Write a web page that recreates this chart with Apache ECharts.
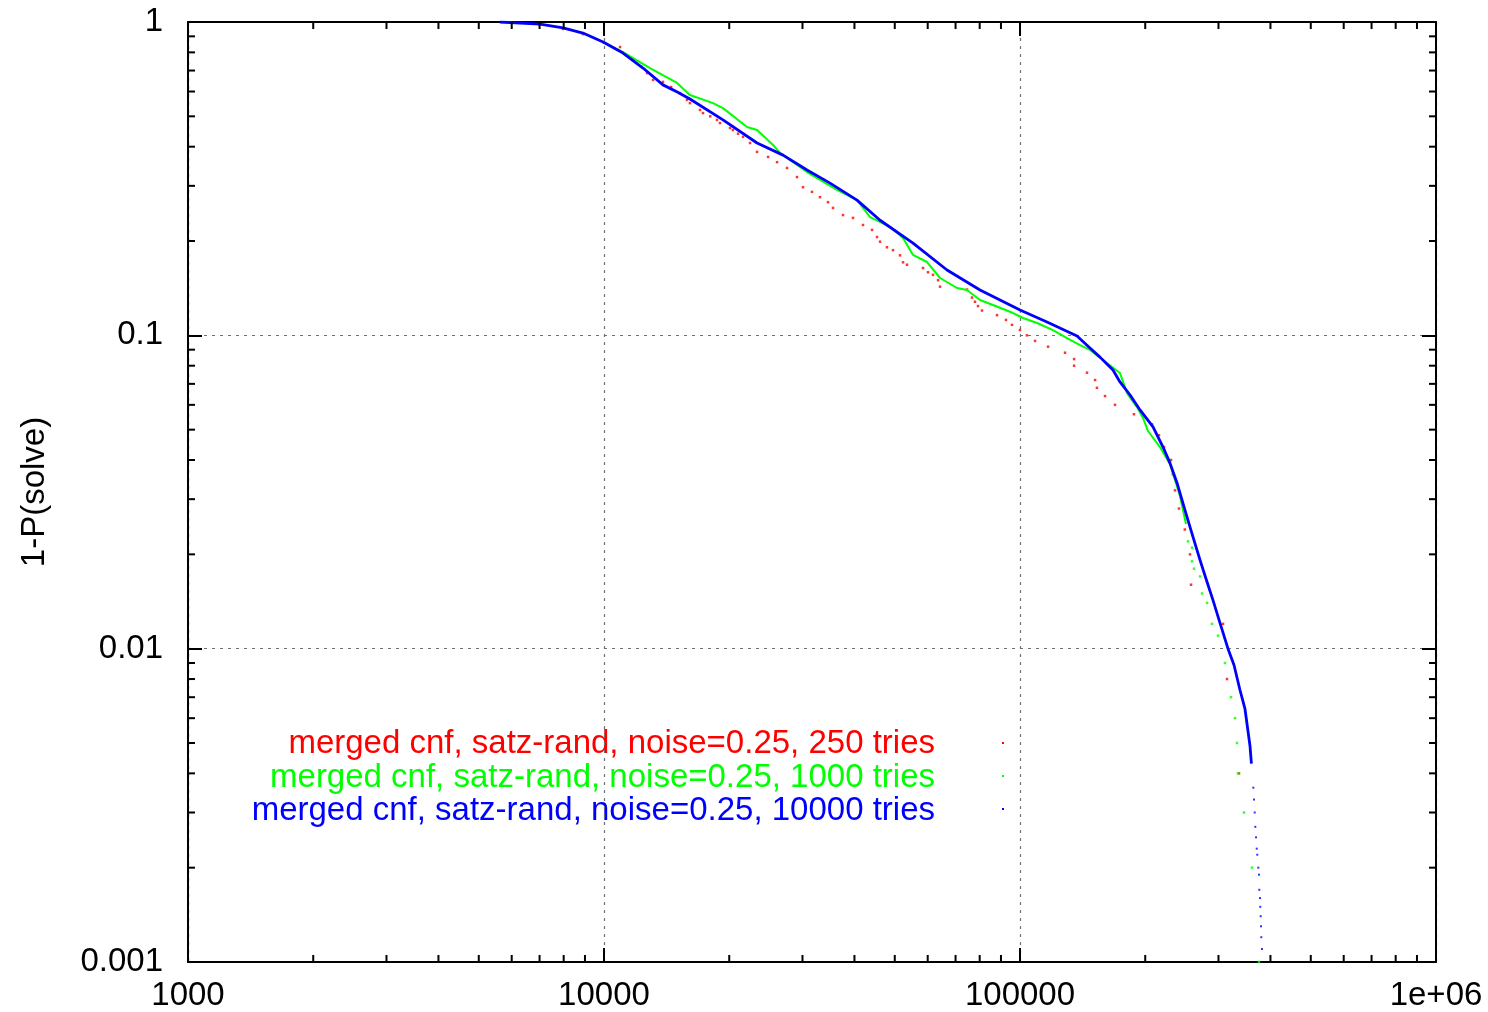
<!DOCTYPE html>
<html>
<head>
<meta charset="utf-8">
<script src="https://cdn.jsdelivr.net/npm/echarts@6/dist/echarts.min.js"></script>
<style>
html,body{margin:0;padding:0;background:#fff;}
#chart{width:1488px;height:1012px;}
</style>
</head>
<body>
<div id="chart"></div>
<script>
// ---- axis ticks ----
const xMajorTicks = [1000, 10000, 100000, 1000000];
const xTickLabels = ['1000', '10000', '100000', '1e+06'];
const yMajorTicks = [0.001, 0.01, 0.1, 1];
const yTickLabels = ['0.001', '0.01', '0.1', '1'];
const xMinorTicks = [2000, 3000, 4000, 5000, 6000, 7000, 8000, 9000,
  20000, 30000, 40000, 50000, 60000, 70000, 80000, 90000,
  200000, 300000, 400000, 500000, 600000, 700000, 800000, 900000];
const yMinorTicks = [0.002, 0.003, 0.004, 0.005, 0.006, 0.007, 0.008, 0.009,
  0.02, 0.03, 0.04, 0.05, 0.06, 0.07, 0.08, 0.09,
  0.2, 0.3, 0.4, 0.5, 0.6, 0.7, 0.8, 0.9];

// ---- series names ----
const seriesNames = [
  'merged cnf, satz-rand, noise=0.25, 250 tries',
  'merged cnf, satz-rand, noise=0.25, 1000 tries',
  'merged cnf, satz-rand, noise=0.25, 10000 tries'
];

// ---- 250 tries (red points) : [runtime, 1-P(solve)] ----
const red250 = [
  [7970, 0.95], [8900, 0.915], [10930, 0.832], [11300, 0.785], [11740, 0.756],
  [12300, 0.72], [12690, 0.687], [13120, 0.653], [13860, 0.644], [14500, 0.62],
  [15230, 0.593], [15830, 0.564], [16090, 0.551], [17010, 0.524], [17300, 0.512],
  [18000, 0.50], [18690, 0.487], [19000, 0.476], [20090, 0.459], [20420, 0.452],
  [21000, 0.44], [21590, 0.430], [22440, 0.411], [23330, 0.385], [24800, 0.371],
  [26060, 0.357], [27540, 0.342], [29100, 0.320], [30080, 0.297], [31620, 0.287],
  [33050, 0.276], [34550, 0.266], [35520, 0.255], [37540, 0.242], [39680, 0.237],
  [41940, 0.225], [44090, 0.217], [45330, 0.206], [46090, 0.199], [47890, 0.191],
  [49510, 0.187], [51460, 0.180], [52340, 0.171], [53510, 0.168], [58460, 0.164],
  [60100, 0.159], [61790, 0.156], [63530, 0.150], [64230, 0.143], [74580, 0.140],
  [76670, 0.132], [77950, 0.128], [79260, 0.124], [81030, 0.120], [88060, 0.116],
  [92540, 0.112], [95670, 0.108], [100000, 0.104], [103900, 0.100], [108700, 0.096],
  [116800, 0.092], [128300, 0.088], [134900, 0.084], [134900, 0.080], [144900, 0.076],
  [151500, 0.072], [153100, 0.068], [160100, 0.064], [169200, 0.060], [187900, 0.056],
  [207600, 0.052], [215800, 0.048], [222000, 0.044], [230700, 0.040], [233000, 0.036],
  [235800, 0.032], [241100, 0.028], [249000, 0.024], [256200, 0.020], [257700, 0.016],
  [307600, 0.012], [314500, 0.008], [336100, 0.004]
];

// ---- 1000 tries (green) : dense part and sparse tail ----
const green1000Dense = [
  [9950, 0.863], [11110, 0.802], [12900, 0.713], [14980, 0.639], [16090, 0.585],
  [18280, 0.551], [19320, 0.531], [22070, 0.462], [23330, 0.452], [25490, 0.405],
  [26490, 0.382], [30760, 0.332], [36320, 0.291], [40570, 0.270], [43600, 0.2385],
  [48700, 0.222], [52340, 0.2045], [55310, 0.1805], [59770, 0.1714], [64230, 0.1524],
  [70570, 0.1416], [74580, 0.1395], [80140, 0.1297], [88550, 0.1231], [96210, 0.1178],
  [101700, 0.1136], [109900, 0.1095], [120000, 0.1039], [129700, 0.0980], [139400, 0.0931],
  [147300, 0.0898], [161900, 0.0816], [173900, 0.0758], [180800, 0.0654], [191100, 0.0590],
  [197600, 0.0545], [203100, 0.0495], [217000, 0.0440], [229400, 0.0388], [242400, 0.0307],
  [250600, 0.025]
];
const green1000Tail = [
  [253400, 0.022], [259100, 0.021], [259100, 0.019], [262000, 0.018], [270900, 0.017],
  [273900, 0.015], [281600, 0.014], [289400, 0.012], [299200, 0.011], [311000, 0.009],
  [321500, 0.007], [328700, 0.006], [332400, 0.005], [334200, 0.004], [345500, 0.003],
  [361200, 0.002], [375400, 0.001]
];

// ---- 10000 tries (blue) : dense part and sparse tail ----
const blue10000Dense = [
  [5620, 1.0], [7020, 0.985], [7970, 0.957], [8900, 0.922], [9950, 0.863],
  [11110, 0.796], [12410, 0.713], [13860, 0.630], [15000, 0.598], [16090, 0.568],
  [19320, 0.487], [23330, 0.411], [26940, 0.376], [30760, 0.337], [34940, 0.306],
  [40570, 0.270], [46090, 0.233], [55310, 0.197], [66760, 0.1616],
  [80140, 0.1395], [96210, 0.1235], [100000, 0.1204], [116100, 0.1103], [137100, 0.0995],
  [147300, 0.0911], [155700, 0.0852], [167300, 0.0775], [173900, 0.0710], [183900, 0.0645],
  [194300, 0.0578], [208800, 0.0510], [220700, 0.0440], [229400, 0.0391], [238500, 0.0338],
  [249200, 0.0277], [260600, 0.0227], [270900, 0.01917], [281600, 0.01632], [291000, 0.01429],
  [302600, 0.01207], [316200, 0.0100], [326900, 0.00887], [337900, 0.00738], [347400, 0.00642],
  [357200, 0.00489], [360000, 0.0043]
];
const blue10000Tail = [
  [363800, 0.0036], [365200, 0.0033], [366600, 0.0030], [367800, 0.0027], [369300, 0.0025],
  [370700, 0.0023], [371900, 0.0022], [374000, 0.0020], [375400, 0.0019], [376000, 0.0017],
  [377500, 0.0016], [378100, 0.0015], [379000, 0.0014], [379600, 0.0013], [380200, 0.0012],
  [381700, 0.0011]
];

const X_MIN = 1000, X_MAX = 1000000, Y_MIN = 0.001, Y_MAX = 1;
const FONT = '"Liberation Sans", Arial, Helvetica, sans-serif';
const FS = 33;
const RED = '#ff0000', GREEN = '#00ff00', BLUE = '#0000ff';
const GRID_COLOR = '#707070';

function fmtX(v) { const i = Math.round(Math.log10(v)) - 3; return xTickLabels[i] !== undefined ? xTickLabels[i] : ''; }
function fmtY(v) { const i = Math.round(Math.log10(v)) + 3; return yTickLabels[i] !== undefined ? yTickLabels[i] : ''; }

const tickStyle = { stroke: '#000', lineWidth: 2 };
const MINOR = 7;

function xMinorRender(params, api) {
  const v = api.value(0);
  const b = api.coord([v, Y_MIN]);
  const t = api.coord([v, Y_MAX]);
  return { type: 'group', children: [
    { type: 'line', shape: { x1: b[0], y1: b[1], x2: b[0], y2: b[1] - MINOR }, style: tickStyle },
    { type: 'line', shape: { x1: t[0], y1: t[1], x2: t[0], y2: t[1] + MINOR }, style: tickStyle }
  ]};
}
function yMinorRender(params, api) {
  const v = api.value(1);
  const l = api.coord([X_MIN, v]);
  const r = api.coord([X_MAX, v]);
  return { type: 'group', children: [
    { type: 'line', shape: { x1: l[0], y1: l[1], x2: l[0] + MINOR, y2: l[1] }, style: tickStyle },
    { type: 'line', shape: { x1: r[0], y1: r[1], x2: r[0] - MINOR, y2: r[1] }, style: tickStyle }
  ]};
}

const chart = echarts.init(document.getElementById('chart'), null, { renderer: 'canvas' });

const baseX = {
  type: 'log', logBase: 10, min: X_MIN, max: X_MAX, gridIndex: 0,
  axisLine: { show: true, lineStyle: { color: '#000', width: 2 } },
  axisTick: { show: true, inside: true, length: 14, lineStyle: { color: '#000', width: 2 } },
  minorTick: { show: false },
  splitLine: { show: false }
};
const baseY = {
  type: 'log', logBase: 10, min: Y_MIN, max: Y_MAX, gridIndex: 0,
  axisLine: { show: true, lineStyle: { color: '#000', width: 2 } },
  axisTick: { show: true, inside: true, length: 14, lineStyle: { color: '#000', width: 2 } },
  minorTick: { show: false },
  splitLine: { show: false }
};

const option = {
  backgroundColor: '#ffffff',
  animation: false,
  grid: { left: 188, right: 52, top: 22, bottom: 50, containLabel: false },
  xAxis: [
    Object.assign({}, baseX, {
      position: 'bottom',
      axisLabel: { show: true, color: '#000', fontFamily: FONT, fontSize: FS, margin: 17, formatter: fmtX },
      splitLine: { show: true, lineStyle: { color: GRID_COLOR, width: 1.2, type: [3, 5] } }
    }),
    Object.assign({}, baseX, { position: 'top', axisLabel: { show: false } })
  ],
  yAxis: [
    Object.assign({}, baseY, {
      position: 'left',
      name: '1-P(solve)', nameLocation: 'middle', nameRotate: 90, nameGap: 137,
      nameTextStyle: { color: '#000', fontFamily: FONT, fontSize: FS },
      axisLabel: { show: true, color: '#000', fontFamily: FONT, fontSize: FS, margin: 25, formatter: fmtY },
      splitLine: { show: true, lineStyle: { color: GRID_COLOR, width: 1.2, type: [3, 5] } }
    }),
    Object.assign({}, baseY, { position: 'right', axisLabel: { show: false } })
  ],
  series: [
    { type: 'custom', name: 'xminor', xAxisIndex: 0, yAxisIndex: 0, clip: false, silent: true,
      data: xMinorTicks.map(v => [v, Y_MIN]), renderItem: xMinorRender, z: 10 },
    { type: 'custom', name: 'yminor', xAxisIndex: 0, yAxisIndex: 0, clip: false, silent: true,
      data: yMinorTicks.map(v => [X_MIN, v]), renderItem: yMinorRender, z: 10 },
    { type: 'scatter', name: seriesNames[0], data: red250, symbol: 'rect', symbolSize: 2.5,
      itemStyle: { color: RED }, silent: true, z: 2 },
    { type: 'line', name: seriesNames[1], data: green1000Dense, symbol: 'none', showSymbol: false,
      lineStyle: { color: GREEN, width: 2 }, silent: true, z: 3 },
    { type: 'scatter', name: seriesNames[1] + ' tail', data: green1000Tail, symbol: 'rect', symbolSize: 2.5,
      itemStyle: { color: GREEN }, silent: true, z: 3 },
    { type: 'line', name: seriesNames[2], data: blue10000Dense, symbol: 'none', showSymbol: false,
      lineStyle: { color: BLUE, width: 2.8, join: 'round' }, silent: true, z: 4 },
    { type: 'scatter', name: seriesNames[2] + ' tail', data: blue10000Tail, symbol: 'rect', symbolSize: 2,
      itemStyle: { color: BLUE }, silent: true, z: 4 }
  ],
  graphic: [
    { type: 'text', right: 1488 - 935, top: 743 - 16,
      style: { text: seriesNames[0], fill: RED, font: FS + 'px ' + FONT, textAlign: 'right' } },
    { type: 'text', right: 1488 - 935, top: 777 - 16,
      style: { text: seriesNames[1], fill: GREEN, font: FS + 'px ' + FONT, textAlign: 'right' } },
    { type: 'text', right: 1488 - 935, top: 810 - 16,
      style: { text: seriesNames[2], fill: BLUE, font: FS + 'px ' + FONT, textAlign: 'right' } },
    { type: 'rect', left: 1002, top: 742, shape: { width: 2, height: 2 }, style: { fill: RED } },
    { type: 'rect', left: 1002, top: 775, shape: { width: 2, height: 2 }, style: { fill: GREEN } },
    { type: 'rect', left: 1002, top: 808, shape: { width: 2, height: 2 }, style: { fill: BLUE } }
  ]
};
chart.setOption(option);
</script>
</body>
</html>
